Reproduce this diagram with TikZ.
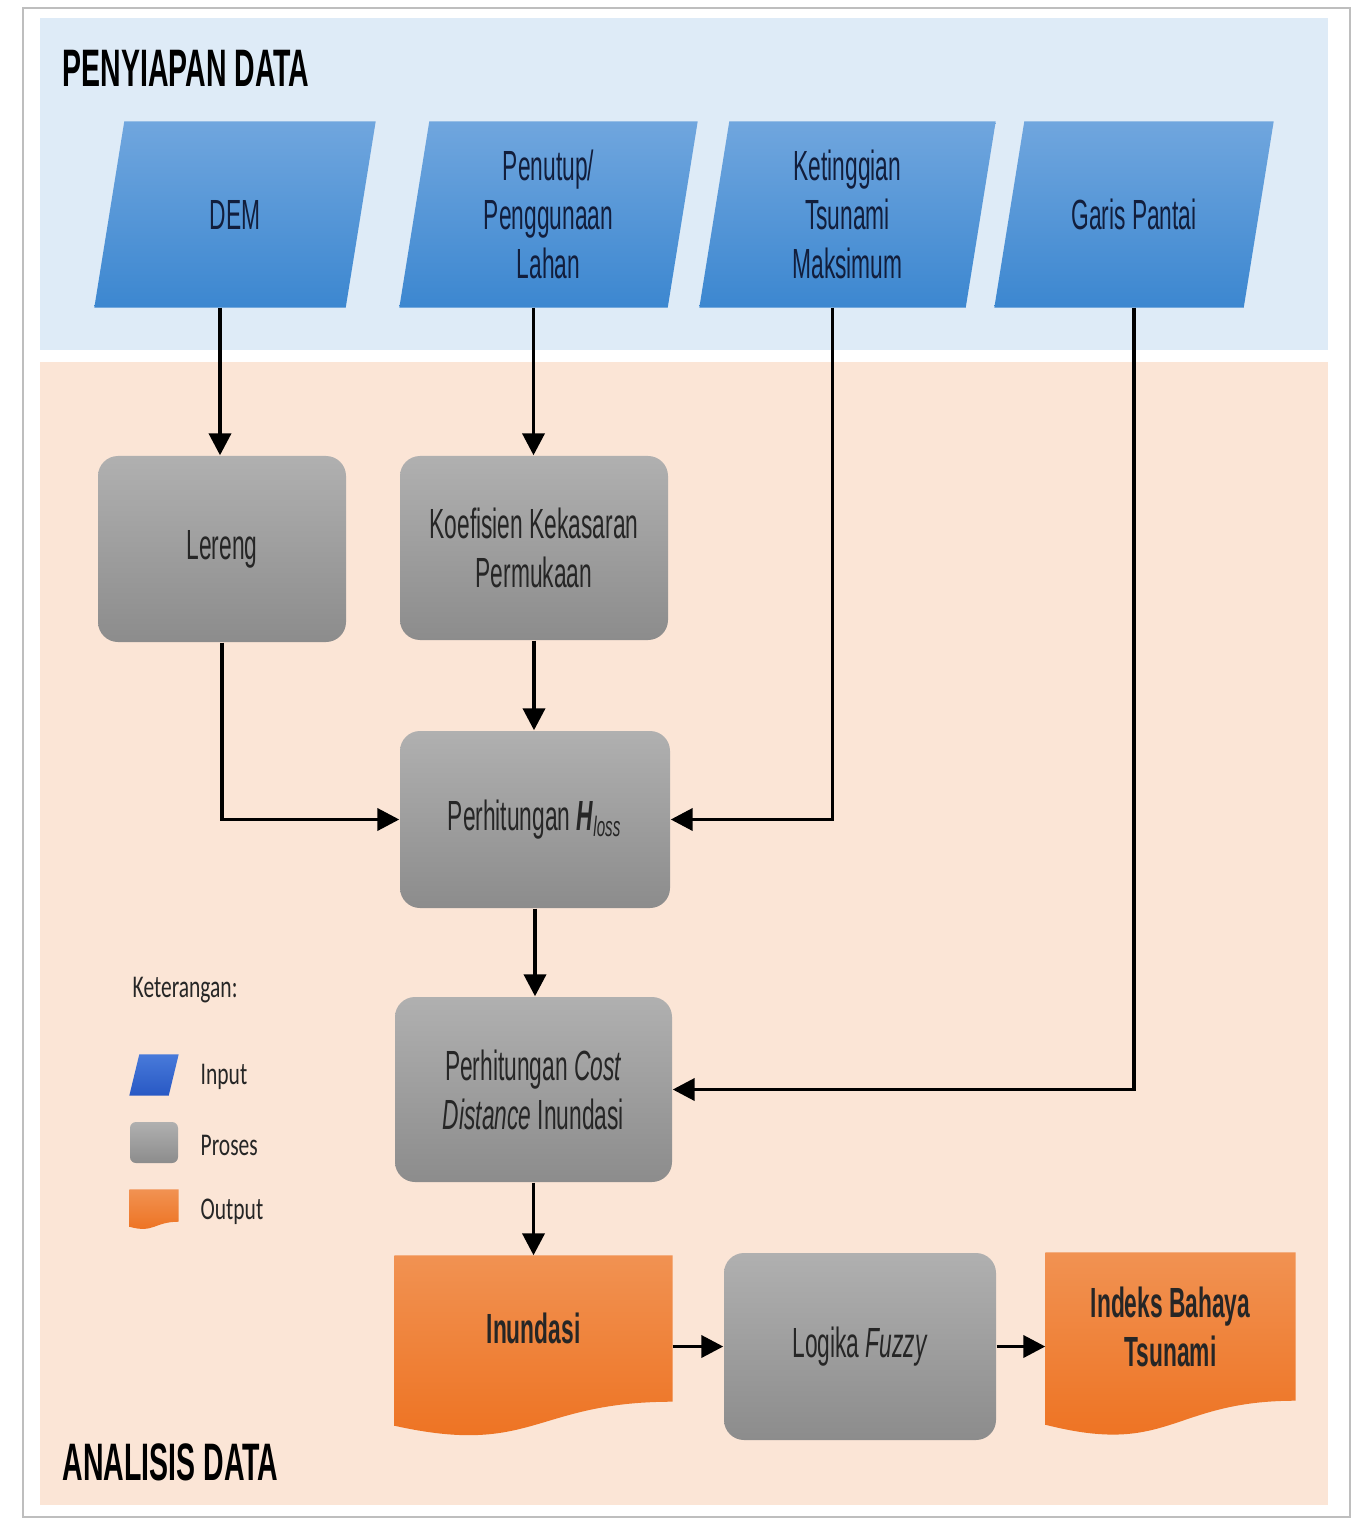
\documentclass[tikz,border=0pt]{standalone}
\usepackage{fontspec}
\usetikzlibrary{arrows.meta, positioning, backgrounds}
\newfontfamily\nodefont{Liberation Sans}[FakeStretch=0.54]
\newfontfamily\titlefont{Liberation Sans}[FakeStretch=0.54]
\newfontfamily\legfont{Carlito}[FakeStretch=0.68]
\definecolor{prepbg}{RGB}{222,235,247}
\definecolor{anabg}{RGB}{251,229,214}
\definecolor{intop}{RGB}{112,166,222}
\definecolor{inbot}{RGB}{60,135,208}
\definecolor{grtop}{RGB}{176,176,176}
\definecolor{grbot}{RGB}{140,140,140}
\definecolor{ortop}{RGB}{241,146,82}
\definecolor{orbot}{RGB}{237,112,30}
\definecolor{intext}{RGB}{18,30,60}
\definecolor{legtop}{RGB}{72,122,218}
\definecolor{legbot}{RGB}{40,88,196}
\definecolor{framegrey}{RGB}{190,190,190}
\pgfdeclarelayer{docs}
\pgfsetlayers{background,docs,main}
% slanted input sheet: node, slant, fill style
\newcommand{\slantbox}[3]{%
  \path[#3] ([xshift=#2]#1.north west) -- (#1.north east) -- ([xshift=-#2]#1.south east) -- (#1.south west) -- cycle;}
% wavy bottom of an output sheet: node, left drop, control drop
\newcommand{\wavedoc}[3]{%
  \path[outfill] (#1.north west) -- (#1.north east) -- (#1.south east)
    .. controls (#1.south) and ([yshift=-#3]#1.south) .. ([yshift=-#2]#1.south west) -- cycle;}

\begin{document}
\begin{tikzpicture}[
        inbox/.style={minimum height=1.85cm, inner sep=0pt,
          font=\nodefont\fontsize{12}{13.9}\selectfont, text=intext, align=center},
        infill/.style={top color=intop, bottom color=inbot},
        procbox/.style={rounded corners=0.2cm, top color=grtop, bottom color=grbot,
          font=\nodefont\fontsize{12}{13.9}\selectfont, text=black!85, align=center},
        outbox/.style={inner sep=0pt, font=\nodefont\bfseries\fontsize{12}{13.9}\selectfont, text=black!85, align=center},
        outfill/.style={top color=ortop, bottom color=orbot},
        title/.style={anchor=west, inner sep=0pt, font=\titlefont\bfseries\fontsize{15}{18}\selectfont},
        legtext/.style={anchor=west, inner sep=0pt, font=\legfont\fontsize{9}{11}\selectfont, text=black!85},
        arr/.style={-{Triangle[length=2.2mm, width=2.2mm]}, line width=1.1pt, black}
      ]
        \useasboundingbox (0,0) rectangle (13.62,-15.22);
        % panels
        \draw[framegrey] (0.23,-0.08) rectangle (13.50,-15.17);
        \begin{pgfonlayer}{background}
          \fill[prepbg] (0.40,-0.18) rectangle (13.28,-3.50);
          \fill[anabg] (0.40,-3.62) rectangle (13.28,-15.05);
        \end{pgfonlayer}
        \node[title] (prep) at (0.62,-0.68) {PENYIAPAN DATA};
        \node[title] (ana) at (0.62,-14.62) {ANALISIS DATA};

        % inputs
        \node[inbox, minimum width=2.80cm] (dem) at (2.35,-2.145) {DEM};
        \node[inbox, minimum width=2.97cm] (pen) at (5.485,-2.145) {Penutup/\\Penggunaan\\Lahan};
        \node[inbox, minimum width=2.95cm] (ket) at (8.475,-2.145) {Ketinggian\\Tsunami\\Maksimum};
        \node[inbox, minimum width=2.78cm] (gar) at (11.34,-2.145) {Garis Pantai};
        \begin{pgfonlayer}{docs}
          \slantbox{dem}{0.30cm}{infill}
          \slantbox{pen}{0.30cm}{infill}
          \slantbox{ket}{0.30cm}{infill}
          \slantbox{gar}{0.30cm}{infill}
        \end{pgfonlayer}

        % processes
        \node[procbox, minimum width=2.48cm, minimum height=1.86cm] (ler) at (2.22,-5.49) {Lereng};
        \node[procbox, minimum width=2.68cm, minimum height=1.84cm] (koe) at (5.34,-5.48) {Koefisien Kekasaran\\Permukaan};
        \node[procbox, minimum width=2.70cm, minimum height=1.77cm] (hlo) at (5.35,-8.195)
          {Perhitungan {\bfseries\itshape H}\textsubscript{\itshape loss}};
        \node[procbox, minimum width=2.77cm, minimum height=1.85cm] (cos) at (5.335,-10.895)
          {Perhitungan \textit{Cost}\\\textit{Distance} Inundasi};
        \node[procbox, minimum width=2.72cm, minimum height=1.87cm] (fuz) at (8.60,-13.465) {Logika \textit{Fuzzy}};

        % outputs
        \node[outbox, minimum width=2.77cm, minimum height=1.45cm] (inu) at (5.335,-13.285) {Inundasi};
        \node[outbox, minimum width=2.49cm, minimum height=1.47cm] (ind) at (11.705,-13.265) {Indeks Bahaya\\Tsunami};
        \begin{pgfonlayer}{docs}
          \wavedoc{inu}{0.24cm}{0.55cm}
          \wavedoc{ind}{0.24cm}{0.56cm}
        \end{pgfonlayer}

        % legend
        \node[legtext] (leg) at (1.32,-9.90) {Keterangan:};
        \node[inner sep=0pt, minimum width=0.48cm, minimum height=0.40cm] (legin) at (1.54,-10.75) {};
        \node[procbox, rounded corners=0.06cm, minimum width=0.48cm, minimum height=0.41cm, inner sep=1pt] (legpr) at (1.54,-11.425) {};
        \node[outbox, minimum width=0.48cm, minimum height=0.31cm] (legout) at (1.54,-12.055) {};
        \begin{pgfonlayer}{docs}
          \slantbox{legin}{0.10cm}{top color=legtop, bottom color=legbot}
          \wavedoc{legout}{0.05cm}{0.12cm}
        \end{pgfonlayer}
        \node[legtext] (legint) at (2.00,-10.77) {Input};
        \node[legtext] (legprt) at (2.00,-11.45) {Proses};
        \node[legtext] (legoutt) at (2.00,-12.12) {Output};

        % connectors
        \draw[arr] ([xshift=-1.5mm]dem.south) -- ([xshift=-1.5mm]dem.south |- ler.north);
        \draw[arr] ([xshift=-1.5mm]pen.south) -- ([xshift=-1.5mm]pen.south |- koe.north);
        \draw[arr] (koe.south) -- (koe.south |- hlo.north);
        \draw[arr] (ler.south) |- (hlo.west);
        \draw[arr] ([xshift=-1.5mm]ket.south) |- (hlo.east);
        \draw[arr] (hlo.south) -- (hlo.south |- cos.north);
        \draw[arr] (gar.south) |- (cos.east);
        \draw[arr] (cos.south) -- (cos.south |- inu.north);
        \draw[arr] (inu.east |- fuz.west) -- (fuz.west);
        \draw[arr] (fuz.east) -- (fuz.east -| ind.west);
      \end{tikzpicture}
\end{document}
